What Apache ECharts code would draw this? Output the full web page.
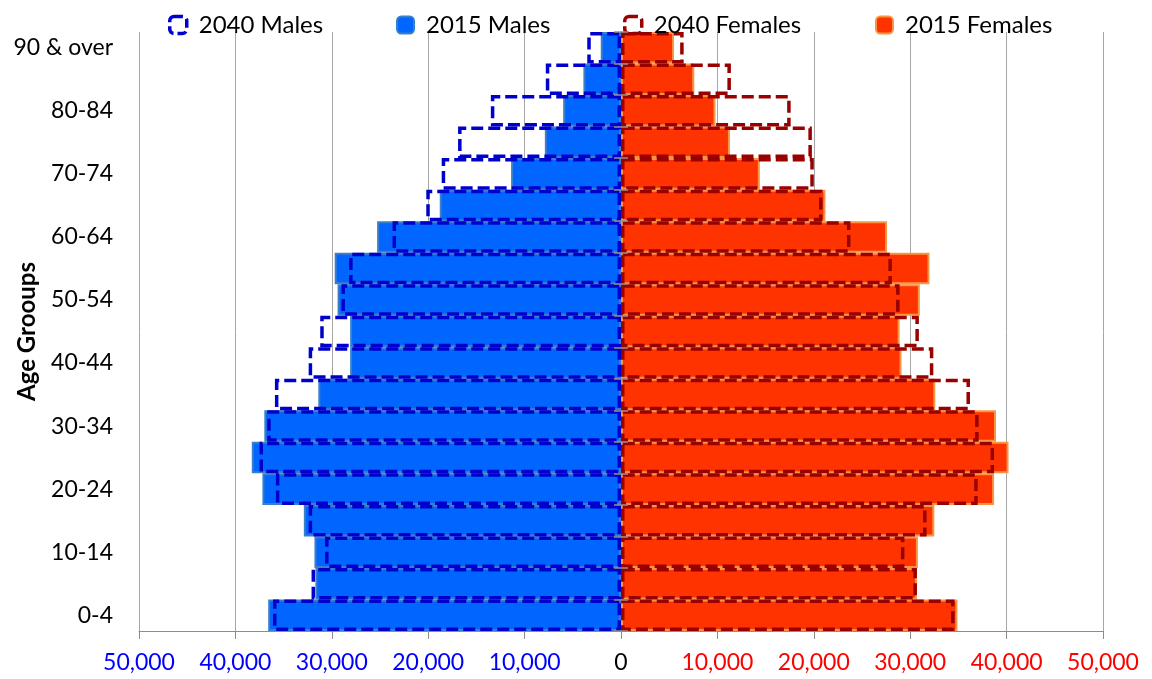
<!DOCTYPE html>
<html>
<head>
<meta charset="utf-8">
<script src="https://cdn.jsdelivr.net/npm/echarts@6/dist/echarts.min.js"></script>
<style>
html,body{margin:0;padding:0;background:#fff;}
#chart{width:1152px;height:679px;}
</style>
</head>
<body>
<div id="chart"></div>
<script>
const categories = ['0-4','5-9','10-14','15-19','20-24','25-29','30-34','35-39','40-44','45-49','50-54','55-59','60-64','65-69','70-74','75-79','80-84','85-89','90 & over'];
const males2015   = [36600,31700,31800,32900,37200,38300,37000,31400,28100,28100,29400,29700,25300,18800,11400,7900,6000,3900,2100];
const males2040   = [36100,32100,30700,32400,35800,37500,36700,35900,32400,31200,29000,28200,23700,20200,18600,16900,13500,7800,3500];
const females2015 = [34900,30700,30800,32500,38700,40200,38900,32600,29100,28900,31000,32000,27600,21200,14400,11300,9800,7600,5500];
const females2040 = [34600,30700,29400,31700,37000,38700,37100,36200,32400,30900,28900,28100,23800,20900,20000,19800,17600,11400,6500];
const xTicks = [-50000,-40000,-30000,-20000,-10000,0,10000,20000,30000,40000,50000];

const FONT = 'Lato';
const GRID_LEFT = 139, GRID_RIGHT = 49;
const chart = echarts.init(document.getElementById('chart'), null, {renderer:'canvas'});
const gridWidth = 1152 - GRID_LEFT - GRID_RIGHT;
const xMin = xTicks[0], xMax = xTicks[xTicks.length-1];
const zeroOffset = -gridWidth * (0 - xMin) / (xMax - xMin);

function fmt(v){ return Math.abs(Number(v)).toLocaleString('en-US'); }
const dashed = [12,5];
function legendAt(name, left, dash, col){
  const l = {
    data:[name], left:left, top:13, padding:0,
    itemWidth:17, itemHeight:17,
    textStyle:{fontFamily:FONT, fontSize:24, color:'#000', padding:[0,0,0,7]}
  };
  if (dash) l.itemStyle = {color:'rgba(0,0,0,0)', borderColor:col, borderWidth:3.5, borderType:[9,4]};
  return l;
}

const option = {
  animation:false,
  backgroundColor:'#fff',
  legend:[
    legendAt('2040 Males',168,true,'#0000cc'),
    legendAt('2015 Males',396),
    legendAt('2040 Females',623,true,'#990000'),
    legendAt('2015 Females',875)
  ],
  grid:{left:GRID_LEFT, right:GRID_RIGHT, top:32, bottom:48, containLabel:false, outerBoundsMode:'none'},
  xAxis:{
    type:'value', min:xMin, max:xMax, interval:10000,
    axisLine:{show:true, onZero:false, lineStyle:{color:'#8c8c8c', width:1}},
    axisTick:{show:true, length:8, lineStyle:{color:'#8c8c8c'}},
    splitLine:{show:true, lineStyle:{color:'#a6a6a6', width:1}},
    axisLabel:{
      fontFamily:FONT, fontSize:23, margin:20,
      formatter:fmt,
      color:function(v){ v=Number(v); return v<0?'#0000ff':(v>0?'#ff0000':'#000000'); }
    }
  },
  yAxis:[
    {
      type:'category', data:categories, position:'left',
      axisLine:{show:false, onZero:false}, axisTick:{show:false},
      axisLabel:{interval:1, fontFamily:FONT, fontSize:23, color:'#000', margin:26},
      name:'Age Grooups', nameLocation:'middle', nameRotate:90, nameGap:100, nameMoveOverlap:false,
      nameTextStyle:{fontFamily:FONT, fontSize:24, fontWeight:'bold', color:'#000'}
    },
    {
      type:'category', data:categories, z:10, position:'left', offset:zeroOffset,
      axisLine:{show:true, onZero:false, lineStyle:{color:'rgba(0,0,0,0)'}},
      axisTick:{show:true, length:7, inside:false, lineStyle:{color:'#909090', width:1.5}},
      axisLabel:{show:false}
    },
    {
      type:'category', data:categories, z:10, position:'left', offset:zeroOffset,
      axisLine:{show:true, onZero:false, lineStyle:{color:'rgba(0,0,0,0)'}},
      axisTick:{show:true, length:7, inside:true, lineStyle:{color:'#909090', width:1.5}},
      axisLabel:{show:false}
    }
  ],
  series:[
    {
      name:'2015 Males', type:'bar', yAxisIndex:0,
      data:males2015.map(v=>-v),
      barCategoryGap:'0%', barGap:'-100%',
      itemStyle:{color:'#0066ff', borderColor:'#3a7fc8', borderWidth:2}
    },
    {
      name:'2015 Females', type:'bar', yAxisIndex:0,
      data:females2015,
      barCategoryGap:'0%', barGap:'-100%',
      itemStyle:{color:'#ff3300', borderColor:'#f79646', borderWidth:2}
    },
    {
      name:'2040 Males', type:'bar', yAxisIndex:0, z:3,
      data:males2040.map(v=>-v),
      barCategoryGap:'0%', barGap:'-100%',
      itemStyle:{color:'rgba(0,0,0,0)', borderColor:'#0000cc', borderWidth:3.5, borderType:dashed}
    },
    {
      name:'2040 Females', type:'bar', yAxisIndex:0, z:3,
      data:females2040,
      barCategoryGap:'0%', barGap:'-100%',
      itemStyle:{color:'rgba(0,0,0,0)', borderColor:'#990000', borderWidth:3.5, borderType:dashed}
    }
  ]
};
chart.setOption(option);
</script>
</body>
</html>
